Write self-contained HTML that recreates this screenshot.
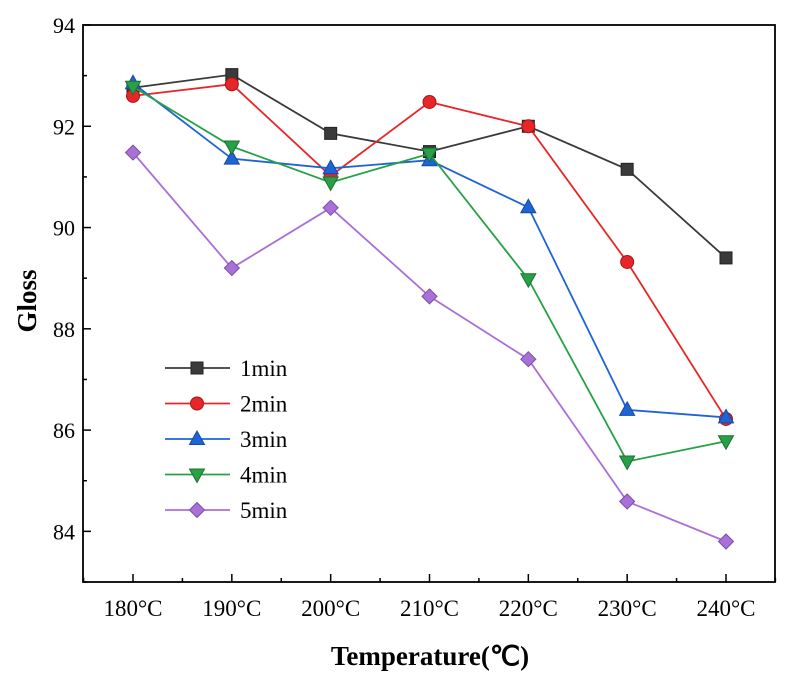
<!DOCTYPE html>
<html><head><meta charset="utf-8"><style>body{margin:0;background:#fff}svg text{font-family:"Liberation Serif",serif}</style></head>
<body>
<svg id="chart" width="800" height="685" viewBox="0 0 800 685" xmlns="http://www.w3.org/2000/svg"></svg>
<script>
const categories=["180°C","190°C","200°C","210°C","220°C","230°C","240°C"];
const yTicks=[84,86,88,90,92,94];
const seriesNames=["1min","2min","3min","4min","5min"];
const s1=[92.76,93.02,91.86,91.5,92.0,91.15,89.4];
const s2=[92.6,92.83,91.02,92.48,92.0,89.32,86.22];
const s3=[92.85,91.36,91.17,91.33,90.4,86.4,86.25];
const s4=[92.78,91.6,90.89,91.46,88.98,85.38,85.78];
const s5=[91.48,89.2,90.39,88.64,87.4,84.59,83.8];
const series=[s1,s2,s3,s4,s5];
const colors=["#3a3a3a","#e8262a","#1f64d6","#27a046","#a970d8"];
const strokes=["#222","#a01818","#154a9e","#1b7031","#7b4ea3"];
const markers=["square","circle","up","down","diamond"];
const L=83,R=775,T=25,B=582,yMin=83,yMax=94;
const x=i=>133+i*(726-133)/6;
const y=v=>B-(v-yMin)/(yMax-yMin)*(B-T);
const svg=document.getElementById('chart');const NS="http://www.w3.org/2000/svg";
function mk(t,a,p){const e=document.createElementNS(NS,t);for(const k in a)e.setAttribute(k,a[k]);(p||svg).appendChild(e);return e;}
function marker(g,m,cx,cy,c,sc){
 let e;const st={fill:c,stroke:sc,'stroke-width':1};
 if(m==="square")e=mk('rect',Object.assign({x:cx-6,y:cy-6,width:12,height:12},st),g);
 else if(m==="circle")e=mk('circle',Object.assign({cx:cx,cy:cy,r:6.5},st),g);
 else if(m==="up")e=mk('polygon',Object.assign({points:`${cx},${cy-8} ${cx-7.5},${cy+5.5} ${cx+7.5},${cy+5.5}`},st),g);
 else if(m==="down")e=mk('polygon',Object.assign({points:`${cx},${cy+8} ${cx-7.5},${cy-5.5} ${cx+7.5},${cy-5.5}`},st),g);
 else e=mk('polygon',Object.assign({points:`${cx},${cy-7.5} ${cx+7.5},${cy} ${cx},${cy+7.5} ${cx-7.5},${cy}`},st),g);
 
 
}
const fr=mk('rect',{x:L,y:T,width:R-L,height:B-T,fill:'none',stroke:'#000','stroke-width':1.8});

yTicks.forEach(v=>{
 mk('line',{x1:L,x2:L+8,y1:y(v),y2:y(v),stroke:'#000','stroke-width':1.5});
 const t=mk('text',{x:L-8,y:y(v)+8,'text-anchor':'end','font-size':22});t.textContent=v;
 
 if(v<94)mk('line',{x1:L,x2:L+4,y1:y(v+1),y2:y(v+1),stroke:'#000','stroke-width':1.5});
});
mk('line',{x1:L,x2:L+4,y1:y(83),y2:y(83),stroke:'#000','stroke-width':1.5});
categories.forEach((c,i)=>{
 mk('line',{x1:x(i),x2:x(i),y1:B,y2:B-8,stroke:'#000','stroke-width':1.5});
 if(i<6)mk('line',{x1:(x(i)+x(i+1))/2,x2:(x(i)+x(i+1))/2,y1:B,y2:B-4,stroke:'#000','stroke-width':1.5});
 const t=mk('text',{x:x(i),y:B+34,'text-anchor':'middle','font-size':23});t.textContent=c;
 
});
mk('line',{x1:x(0)-49.4,x2:x(0)-49.4,y1:B,y2:B-4,stroke:'#000','stroke-width':1.5});
mk('line',{x1:x(6)+49.4,x2:x(6)+49.4,y1:B,y2:B-4,stroke:'#000','stroke-width':1.5});
let t=mk('text',{x:430,y:665,'text-anchor':'middle','font-size':27,'font-weight':'bold'});t.textContent="Temperature(℃)";

t=mk('text',{x:0,y:0,'text-anchor':'middle','font-size':27,'font-weight':'bold',transform:'translate(36,301) rotate(-90)'});t.textContent="Gloss";

series.forEach((s,k)=>{
 const g=mk('g',{});
 mk('polyline',{points:s.map((v,i)=>x(i)+','+y(v)).join(' '),fill:'none',stroke:colors[k],'stroke-width':1.8},g);
 s.forEach((v,i)=>marker(g,markers[k],x(i),y(v),colors[k],strokes[k]));
 const lg=mk('g',{});
 const ly=368+k*35.5;
 mk('line',{x1:165,x2:230,y1:ly,y2:ly,stroke:colors[k],'stroke-width':1.8},lg);
 marker(lg,markers[k],197,ly,colors[k],strokes[k]);
 const tt=mk('text',{x:240,y:ly+8,'font-size':23},lg);tt.textContent=seriesNames[k];
});
</script>
</body></html>
